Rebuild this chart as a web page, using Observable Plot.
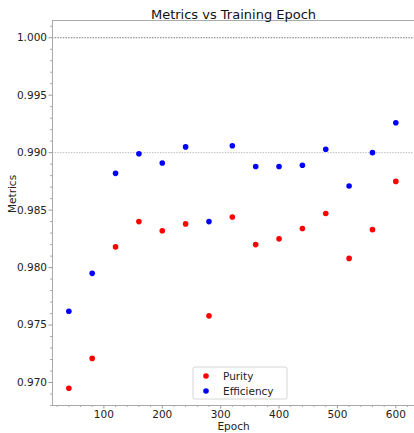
<!DOCTYPE html>
<html>
<head>
<meta charset="utf-8">
<script src="https://cdn.jsdelivr.net/npm/d3@7"></script>
<script src="https://cdn.jsdelivr.net/npm/@observablehq/plot@0.6"></script>
<style>
  html, body { margin: 0; padding: 0; background: #fff; }
  svg { font-family: "DejaVu Sans", sans-serif; }
</style>
</head>
<body>
<div id="chart"></div>
<script>
const epochs = [40, 80, 120, 160, 200, 240, 280, 320, 360, 400, 440, 480, 520, 560, 600];
const purity = [0.9695, 0.9721, 0.9818, 0.9840, 0.9832, 0.9838, 0.9758, 0.9844, 0.9820, 0.9825, 0.9834, 0.9847, 0.9808, 0.9833, 0.9875];
const efficiency = [0.9762, 0.9795, 0.9882, 0.9899, 0.9891, 0.9905, 0.9840, 0.9906, 0.9888, 0.9888, 0.9889, 0.9903, 0.9871, 0.9900, 0.9926];
const seriesNames = ["Purity", "Efficiency"];
const seriesColors = ["#ff0000", "#0000ff"];
const refLines = [1.0, 0.99];
const xTicks = [100, 200, 300, 400, 500, 600];
const yTicks = [0.970, 0.975, 0.980, 0.985, 0.990, 0.995, 1.000];
const xMinor = d3.range(20, 621, 20).filter(v => v % 100 !== 0);
const yMinor = d3.range(9680, 10016, 10).map(v => v / 10000).filter(v => Math.round(v * 10000) % 50 !== 0);

const data = [];
epochs.forEach((e, i) => {
  data.push({epoch: e, value: purity[i], series: "Purity"});
});
epochs.forEach((e, i) => {
  data.push({epoch: e, value: efficiency[i], series: "Efficiency"});
});

const W = 414, H = 433;
const plot = Plot.plot({
  width: W,
  height: H,
  marginLeft: 52,
  marginRight: 0,
  marginTop: 20,
  marginBottom: 28,
  style: {fontFamily: "DejaVu Sans, sans-serif", fontSize: "10px", color: "#222", background: "#fff"},
  x: {domain: [12, 632], label: null},
  y: {domain: [0.968, 1.0015], label: null},
  color: {domain: seriesNames, range: seriesColors},
  marks: [
    Plot.ruleY([refLines[0]], {stroke: "#555", strokeWidth: 0.8, strokeDasharray: "1.5,1.2"}),
    Plot.ruleY([refLines[1]], {stroke: "#aaa", strokeWidth: 0.8, strokeDasharray: "1.5,1.2"}),
    Plot.axisX({ticks: xTicks, tickSize: 3.5, tickPadding: 1.5, stroke: "#999", fill: "#222", fontSize: 10.5, label: null}),
    Plot.axisX({ticks: xMinor, tickSize: 2, text: null, stroke: "#aaa", label: null}),
    Plot.axisY({ticks: yTicks, tickSize: 3.5, tickPadding: 2, tickFormat: d3.format(".3f"), stroke: "#999", fill: "#222", fontSize: 10.5, label: null}),
    Plot.axisY({ticks: yMinor, tickSize: 2, text: null, stroke: "#aaa", label: null}),
    Plot.ruleX([12], {stroke: "#aaa", strokeWidth: 1}),
    Plot.ruleY([0.968], {stroke: "#aaa", strokeWidth: 1}),
    Plot.ruleY([1.0015], {stroke: "#aaa", strokeWidth: 1}),
    Plot.dot(data, {x: "epoch", y: "value", fill: "series", r: 2.8, stroke: null}),
    Plot.text(["Metrics vs Training Epoch"], {frameAnchor: "top", dy: -11, fontSize: 13, fill: "#111"}),
    Plot.text(["Epoch"], {frameAnchor: "bottom", dy: 24.5, fontSize: 10.5, fill: "#222"}),
    Plot.text(["Metrics"], {frameAnchor: "left", dx: -40, rotate: -90, fontSize: 10.5, fill: "#222"})
  ]
});

// Legend inside the plot area
const svg = d3.select(plot);
const lg = svg.append("g").attr("transform", "translate(193,367)");
lg.append("rect").attr("x", 0).attr("y", 0).attr("width", 94).attr("height", 32)
  .attr("rx", 2).attr("fill", "#fff").attr("stroke", "#ccc").attr("stroke-width", 0.8);
seriesNames.forEach((name, i) => {
  const yy = 9 + i * 15;
  lg.append("circle").attr("cx", 13).attr("cy", yy).attr("r", 2.8).attr("fill", seriesColors[i]);
  lg.append("text").attr("x", 30).attr("y", yy).attr("dy", "0.35em")
    .attr("text-anchor", "start")
    .attr("font-size", 10.5).attr("fill", "#222").text(name);
});

document.getElementById("chart").appendChild(plot);
</script>
</body>
</html>
